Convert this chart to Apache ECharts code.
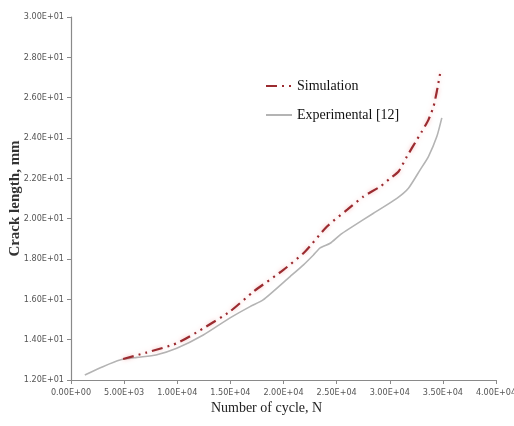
<!DOCTYPE html>
<html>
<head>
<meta charset="UTF-8">
<title>Crack length</title>
<style>
  * { margin: 0; padding: 0; }
  body { background: #fff; }
  #chart { width: 514px; height: 426px; }
</style>
</head>
<body>
<div id="chart"></div>
<script src="https://cdn.jsdelivr.net/npm/echarts@6/dist/echarts.min.js"></script>
<script>
var simCycles = [4900, 7100, 9950, 12450, 14970, 17170, 19990, 22040, 24070, 26000, 27530, 29100, 30040, 30830, 31610, 32550, 33020, 33640, 34120, 34430, 34750];
var simLength = [13.04, 13.36, 13.82, 14.56, 15.40, 16.38, 17.46, 18.37, 19.60, 20.45, 21.10, 21.59, 22.00, 22.34, 23.08, 23.91, 24.32, 24.90, 25.56, 26.31, 27.22];

var expCycles = [1300, 3000, 4600, 6200, 8000, 9950, 12450, 14970, 16850, 18080, 20620, 21880, 22820, 23450, 24390, 25330, 26270, 28470, 30670, 31760, 32860, 33640, 34430, 34900];
var expLength = [12.25, 12.66, 12.99, 13.12, 13.24, 13.57, 14.23, 15.08, 15.64, 15.97, 17.13, 17.71, 18.20, 18.55, 18.78, 19.20, 19.53, 20.27, 21.01, 21.51, 22.42, 23.08, 24.07, 25.00];

var xTickLabels = ['0.00E+00', '5.00E+03', '1.00E+04', '1.50E+04', '2.00E+04', '2.50E+04', '3.00E+04', '3.50E+04', '4.00E+04'];
var yTickLabels = ['1.20E+01', '1.40E+01', '1.60E+01', '1.80E+01', '2.00E+01', '2.20E+01', '2.40E+01', '2.60E+01', '2.80E+01', '3.00E+01'];

function pairs(xs, ys) {
  var out = [];
  for (var i = 0; i < xs.length; i++) out.push([xs[i], ys[i]]);
  return out;
}

var myChart = echarts.init(document.getElementById('chart'));

var tickFont = { color: '#555', fontSize: 9, fontFamily: '"Liberation Sans Narrow", "DejaVu Sans Condensed", Roboto, sans-serif' };

myChart.setOption({
  animation: false,
  grid: { left: 71, right: 18, top: 17, bottom: 46, outerBoundsMode: 'none', containLabel: false },
  legend: {
    orient: 'vertical',
    left: 260,
    top: 74,
    itemWidth: 26,
    itemHeight: 12,
    itemGap: 15,
    itemStyle: { opacity: 0 },
    textStyle: { fontFamily: '"Liberation Serif", serif', fontSize: 14, color: '#111' },
    data: ['Simulation', 'Experimental [12]']
  },
  xAxis: {
    type: 'value',
    min: 0,
    max: 40000,
    interval: 5000,
    name: 'Number of cycle, N',
    nameLocation: 'middle',
    nameGap: 21,
    nameMoveOverlap: false,
    nameTextStyle: { fontFamily: '"Liberation Serif", serif', fontSize: 14, color: '#222', padding: [0, 34, 0, 0] },
    splitLine: { show: false },
    axisLine: { lineStyle: { color: '#8a8a8a', width: 1.2 } },
    axisTick: { show: true, length: 4, lineStyle: { color: '#8a8a8a' } },
    axisLabel: Object.assign({
      margin: 8,
      formatter: function (v) { return xTickLabels[Math.round(v / 5000)]; }
    }, tickFont)
  },
  yAxis: {
    type: 'value',
    min: 12,
    max: 30,
    interval: 2,
    name: 'Crack length, mm',
    nameLocation: 'middle',
    nameGap: 48,
    nameMoveOverlap: false,
    nameTextStyle: { fontFamily: '"Liberation Serif", serif', fontSize: 15, fontWeight: 'bold', color: '#333' },
    splitLine: { show: false },
    axisLine: { show: true, lineStyle: { color: '#8a8a8a', width: 1.2 } },
    axisTick: { show: true, length: 4, lineStyle: { color: '#8a8a8a' } },
    axisLabel: Object.assign({
      margin: 7,
      formatter: function (v) { return yTickLabels[Math.round((v - 12) / 2)]; }
    }, tickFont)
  },
  series: [
    {
      name: 'Simulation',
      type: 'line',
      smooth: 0.2,
      symbol: 'none',
      data: pairs(simCycles, simLength),
      itemStyle: { color: '#9b2b30' },
      lineStyle: {
        color: '#9b2b30',
        width: 2.2,
        type: [11, 5, 2, 5, 2, 5],
        shadowColor: 'rgba(235, 130, 130, 0.55)',
        shadowBlur: 4
      },
      z: 3
    },
    {
      name: 'Experimental [12]',
      type: 'line',
      smooth: 0.2,
      symbol: 'none',
      data: pairs(expCycles, expLength),
      itemStyle: { color: '#b4b4b4' },
      lineStyle: { color: '#b4b4b4', width: 1.6 },
      z: 2
    }
  ]
});
</script>
</body>
</html>
